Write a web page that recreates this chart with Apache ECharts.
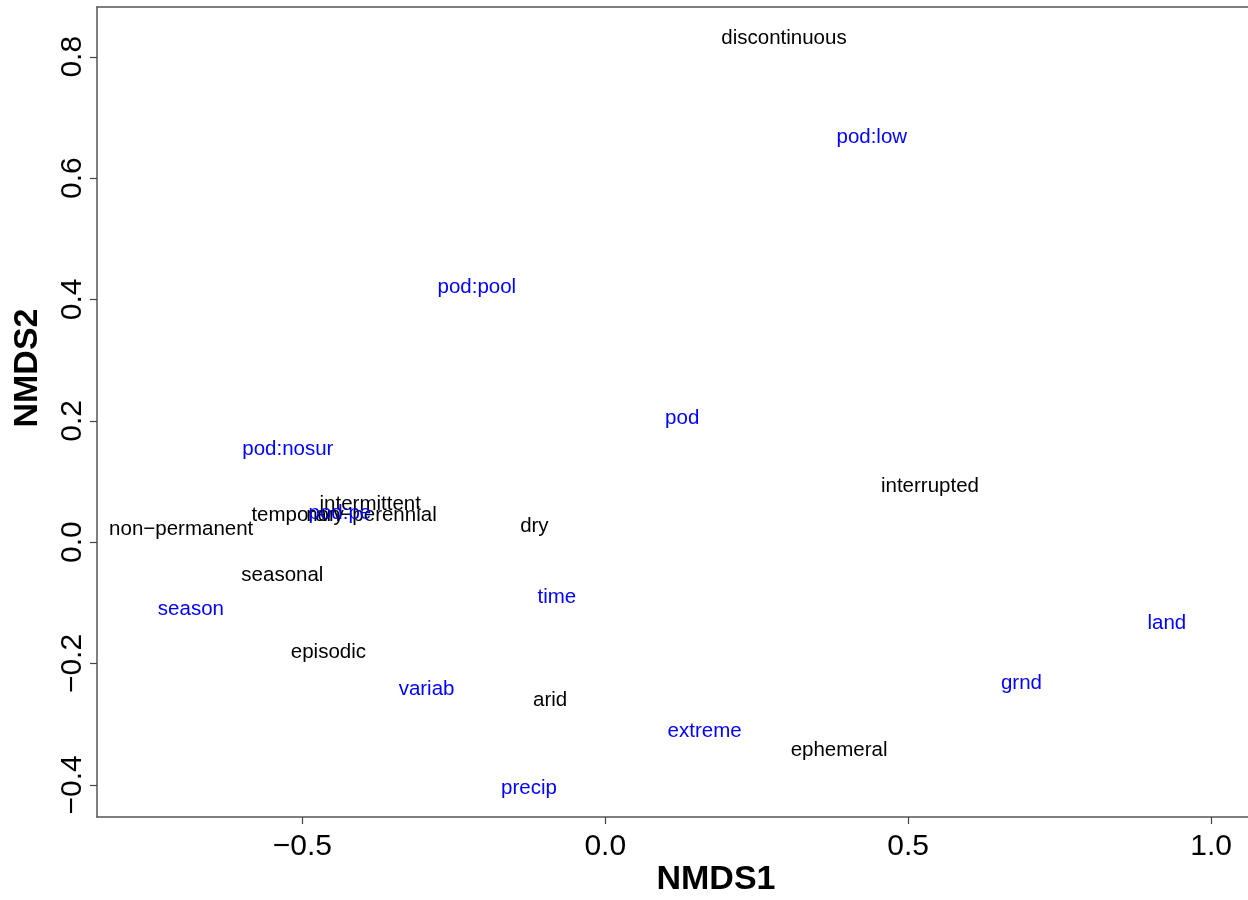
<!DOCTYPE html>
<html>
<head>
<meta charset="utf-8">
<script src="https://cdn.jsdelivr.net/npm/echarts@6/dist/echarts.min.js"></script>
<style>
  html, body { margin: 0; padding: 0; background: #fff; }
  #chart { width: 1248px; height: 900px; }
</style>
</head>
<body>
<div id="chart"></div>
<script>
// Descriptor terms (black) – NMDS site scores
const termNames = ['discontinuous', 'interrupted', 'intermittent', 'non\u2212perennial', 'temporary',
  'non\u2212permanent', 'dry', 'seasonal', 'episodic', 'arid', 'ephemeral'];
const termX = [0.295, 0.536, -0.388, -0.386, -0.508, -0.700, -0.117, -0.533, -0.457, -0.091, 0.386];
const termY = [0.833, 0.096, 0.066, 0.048, 0.047, 0.025, 0.029, -0.051, -0.179, -0.257, -0.340];

// Explanatory variables (blue)
const varNames = ['pod:low', 'pod:pool', 'pod', 'pod:nosur', 'pod:pe', 'season', 'time', 'land',
  'grnd', 'variab', 'extreme', 'precip'];
const varX = [0.440, -0.212, 0.127, -0.524, -0.438, -0.684, -0.080, 0.927, 0.687, -0.295, 0.164, -0.126];
const varY = [0.670, 0.424, 0.208, 0.157, 0.050, -0.107, -0.087, -0.130, -0.230, -0.240, -0.309, -0.402];

// Axis ticks
const xTicks = [-0.5, 0.0, 0.5, 1.0];
const yTicks = [-0.4, -0.2, 0.0, 0.2, 0.4, 0.6, 0.8];

const FONT = '"Liberation Sans", Arial, Helvetica, sans-serif';
const fmt = v => Number(v).toFixed(1).replace('-', '\u2212');
const AXIS_LINE = { show: true, onZero: false, lineStyle: { color: '#555', width: 1.5 } };

function toPoints(names, xs, ys) {
  return names.map((n, i) => ({ name: n, value: [xs[i], ys[i]] }));
}

function labelSeries(names, xs, ys, color) {
  return {
    type: 'scatter',
    symbolSize: 0,
    silent: true,
    itemStyle: { opacity: 1 },
    data: toPoints(names, xs, ys),
    label: {
      show: true,
      position: 'inside',
      offset: [0, 2],
      formatter: p => p.name,
      color: color,
      opacity: 1,
      fontFamily: FONT,
      fontSize: 20.5
    }
  };
}

const chart = echarts.init(document.getElementById('chart'), null, { renderer: 'canvas' });

const xRange = { min: -0.839, max: 1.061 };

chart.setOption({
  backgroundColor: '#ffffff',
  animation: false,
  grid: { left: 97, top: 7, bottom: 83, right: 0 },
  xAxis: [
    {
      type: 'value', position: 'bottom',
      min: xRange.min, max: xRange.max,
      splitLine: { show: false },
      axisLine: AXIS_LINE,
      axisTick: { show: true, length: 7, lineStyle: { color: '#444', width: 1.2 }, customValues: xTicks },
      axisLabel: {
        customValues: xTicks, formatter: fmt, margin: 15,
        color: '#000', fontFamily: FONT, fontSize: 30
      }
    },
    {
      // top edge of the plot box
      type: 'value', position: 'top',
      min: xRange.min, max: xRange.max,
      splitLine: { show: false },
      axisLine: AXIS_LINE,
      axisTick: { show: false },
      axisLabel: { show: false }
    }
  ],
  yAxis: {
    type: 'value', position: 'left',
    min: -0.453, max: 0.882,
    splitLine: { show: false },
    axisLine: AXIS_LINE,
    axisTick: { show: true, length: 7, lineStyle: { color: '#444', width: 1.2 }, customValues: yTicks },
    axisLabel: {
      customValues: yTicks, formatter: fmt, margin: 9, rotate: 90,
      color: '#000', fontFamily: FONT, fontSize: 30
    }
  },
  series: [
    labelSeries(termNames, termX, termY, '#000'),
    labelSeries(varNames, varX, varY, '#0000ff')
  ],
  graphic: [
    {
      type: 'text', x: 716, y: 880,
      style: { text: 'NMDS1', font: 'bold 34px ' + FONT, fill: '#000', align: 'center', verticalAlign: 'middle' }
    },
    {
      type: 'text', x: 28, y: 368, rotation: Math.PI / 2,
      style: { text: 'NMDS2', font: 'bold 34px ' + FONT, fill: '#000', align: 'center', verticalAlign: 'middle' }
    }
  ]
});
</script>
</body>
</html>
